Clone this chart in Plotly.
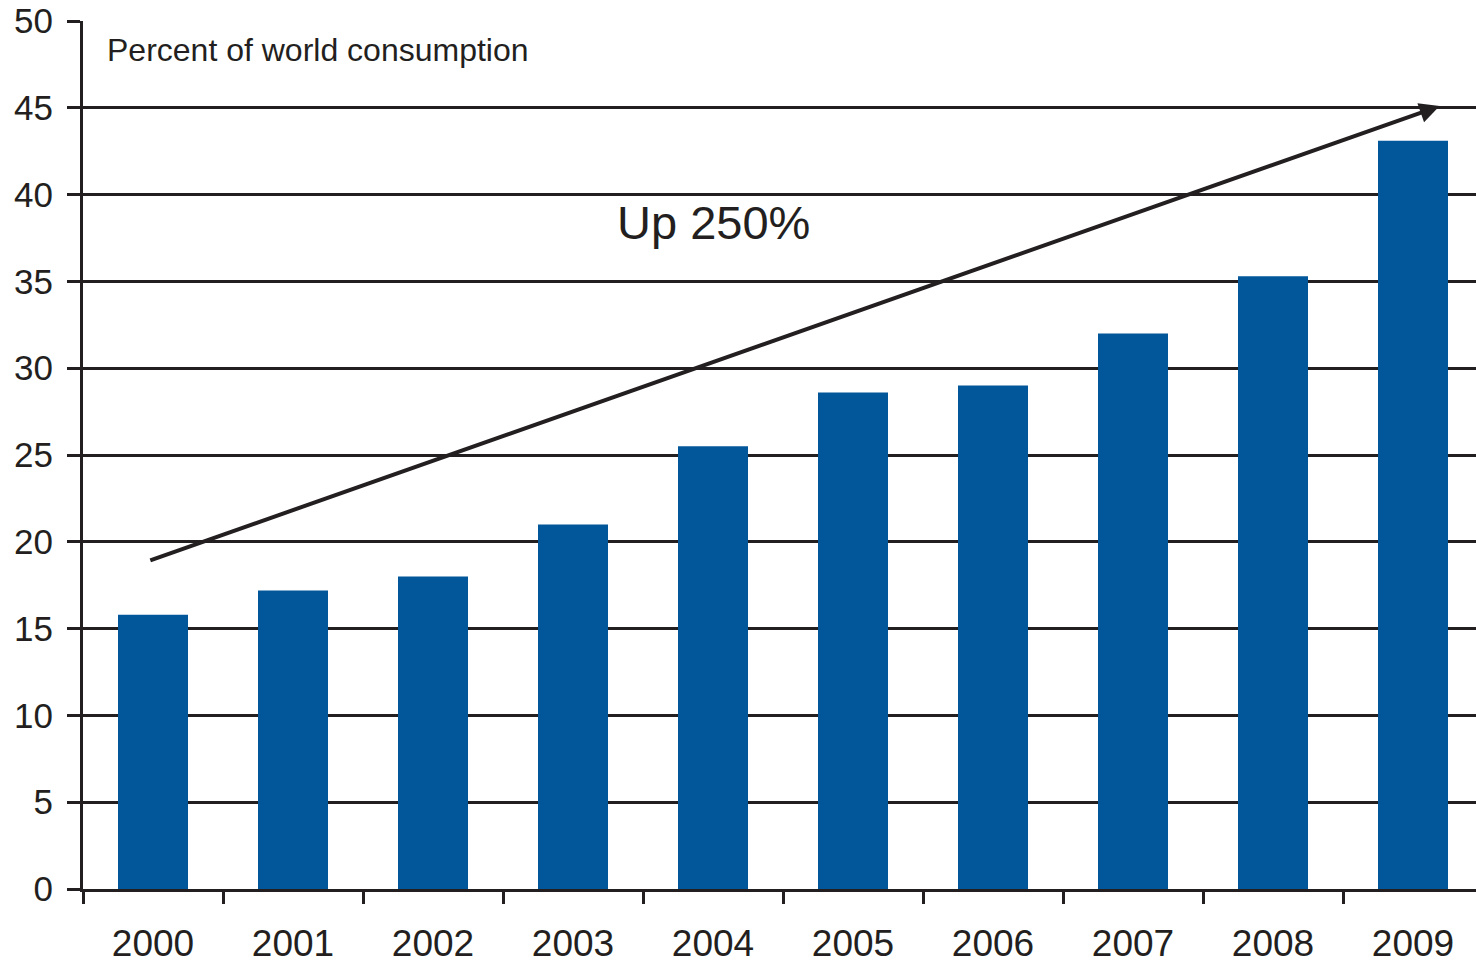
import plotly.graph_objects as go

years = ["2000", "2001", "2002", "2003", "2004", "2005", "2006", "2007", "2008", "2009"]
values = [15.8, 17.2, 18.0, 21.0, 25.5, 28.6, 29.0, 32.0, 35.3, 43.1]
y_ticks = [0, 5, 10, 15, 20, 25, 30, 35, 40, 45, 50]

ink = "#231F20"
bar_color = "#02569A"
font_family = "Liberation Sans, Arial, sans-serif"

fig = go.Figure()
fig.add_trace(go.Bar(x=years, y=values, marker=dict(color=bar_color, line=dict(width=0)), width=0.5))

fig.update_layout(
    width=1476, height=964,
    margin=dict(l=83, r=0, t=21, b=73),
    paper_bgcolor="white", plot_bgcolor="white",
    showlegend=False,
    font=dict(family=font_family, color=ink, size=35),
    bargap=0.5,
)
fig.update_xaxes(
    type="category", range=[-0.5, 9.45],
    tickson="boundaries", ticks="outside", ticklen=12, tickwidth=2.5, tickcolor=ink,
    showline=True, linecolor=ink, linewidth=3, showgrid=False,
    tickfont=dict(size=37, color=ink), ticklabelstandoff=20,
)
fig.update_yaxes(
    range=[0, 50], tickvals=y_ticks, ticks="outside", ticklen=13, tickwidth=2.5, tickcolor=ink,
    showline=True, linecolor=ink, linewidth=3,
    showgrid=True, gridcolor=ink, gridwidth=2.5, zeroline=False,
    tickfont=dict(size=35, color=ink), ticklabelstandoff=7,
)

fig.add_annotation(
    x=9.19, y=45.1, ax=-0.03, ay=18.9, xref="x", yref="y", axref="x", ayref="y",
    showarrow=True, arrowhead=2, arrowsize=1.0, arrowwidth=4, arrowcolor=ink, text="",
)
fig.add_annotation(
    x=4.0, y=38.4, xref="x", yref="y", text="Up 250%", showarrow=False,
    font=dict(size=47, color=ink, family=font_family),
)
fig.add_annotation(
    x=0.0158, y=0.967, xref="paper", yref="paper", xanchor="left", yanchor="middle",
    text="Percent of world consumption", showarrow=False,
    font=dict(size=32, color=ink, family=font_family),
)

fig.write_html("out.html")
